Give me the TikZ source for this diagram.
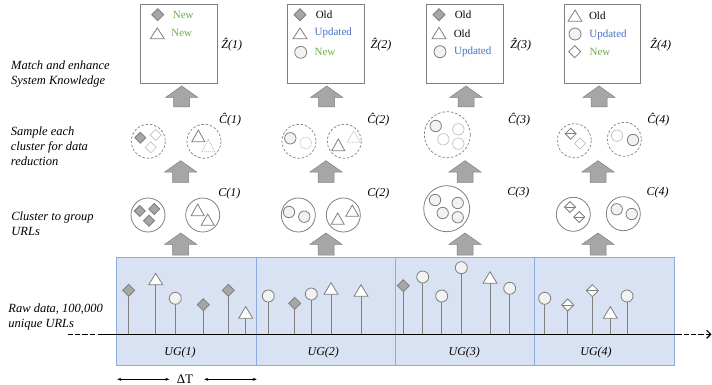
\documentclass[tikz,border=0pt]{standalone}
\usepackage{fontspec}
\setmainfont{Liberation Serif}
\usetikzlibrary{arrows.meta}
\definecolor{edgegray}{HTML}{7F7F7F}
\definecolor{lightedge}{HTML}{BFBFBF}
\definecolor{blockgray}{HTML}{A6A6A6}
\definecolor{softfill}{HTML}{F2F2F2}
\definecolor{bandfill}{HTML}{D9E2F3}
\definecolor{bandedge}{HTML}{8FAADC}
\definecolor{newgreen}{HTML}{70AD47}
\definecolor{updblue}{HTML}{4472C4}
\tikzset{
  lbl/.style={font=\fontsize{12}{14}\selectfont\itshape,inner sep=0pt},
  leftlbl/.style={font=\fontsize{12.5}{15}\selectfont\itshape,inner sep=0pt,anchor=north west,align=left},
  item/.style={font=\fontsize{11}{13}\selectfont,inner sep=0pt},
  itemold/.style={item,text=black},
  itemnew/.style={item,text=newgreen},
  itemupd/.style={item,text=updblue},
  zbox/.style={draw=edgegray,line width=0.9pt,fill=white},
  band/.style={draw=bandedge,line width=0.9pt,fill=bandfill},
  blockarrow/.style={draw=edgegray,line width=0.5pt,fill=blockgray},
  solidring/.style={draw=edgegray,line width=0.8pt},
  dashring/.style={draw=edgegray,line width=0.7pt,dash pattern=on 2.5pt off 1.8pt},
  markdia/.style={draw=edgegray,line width=0.8pt,fill=blockgray},
  markwhite/.style={draw=edgegray,line width=0.8pt,fill=white},
  markcirc/.style={draw=edgegray,line width=0.8pt,fill=softfill},
  faint/.style={draw=lightedge,line width=0.7pt},
  faintdash/.style={draw=lightedge,line width=0.7pt,dash pattern=on 1.2pt off 0.8pt},
  stem/.style={draw=edgegray,line width=0.9pt},
  axis/.style={draw=black,line width=1.5pt},
  axisdash/.style={draw=black,line width=1.2pt,dash pattern=on 5.2pt off 2pt},
  span/.style={draw=black,line width=0.5pt,{Stealth[length=4pt,width=3pt]}-{Stealth[length=4pt,width=3pt]}},
}
% x, y, half-size, style
\newcommand\Dia[4]{\path[#4] (#1-#3,#2) -- (#1,#2-#3) -- (#1+#3,#2) -- (#1,#2+#3) -- cycle;}
\newcommand\SplitDia[3]{\path[markwhite] (#1-#3,#2) -- (#1,#2-#3) -- (#1+#3,#2) -- (#1,#2+#3) -- cycle;
  \path[markwhite] (#1-#3,#2) -- (#1+#3,#2);}
% x, top y, bottom y, half-width, style
\newcommand\Tri[5]{\path[#5] (#1,#2) -- (#1+#4,#3) -- (#1-#4,#3) -- cycle;}
% x, y, r, style
\newcommand\Circ[4]{\path[#4] (#1,#2) circle[radius=#3];}
% tip x, top y, bottom y
\newcommand\Block[3]{\path[blockarrow] (#1,#2) -- (#1+16,#2+11.3) -- (#1+8,#2+11.3) -- (#1+8,#3) -- (#1-8,#3) -- (#1-8,#2+11.3) -- (#1-16,#2+11.3) -- cycle;}
% name, x, top of stem y
\newcommand\Stem[3]{\coordinate (f#1) at (#2,334.3); \coordinate (h#1) at (#2,#3); \draw[stem] (f#1) -- (h#1);}
\begin{document}
\begin{tikzpicture}[x=1pt,y=-1pt]
\useasboundingbox (0,0) rectangle (712,385);

% band
\path[band] (116.3,257.3) rectangle (674.3,365);
\coordinate (d1t) at (256,257.3); \coordinate (d1b) at (256,365);
\coordinate (d2t) at (395.3,257.3); \coordinate (d2b) at (395.3,365);
\coordinate (d3t) at (534.3,257.3); \coordinate (d3b) at (534.3,365);
\draw[band] (d1t) -- (d1b);
\draw[band] (d2t) -- (d2b);
\draw[band] (d3t) -- (d3b);

% stems
\Stem{a}{128.7}{290}\Stem{b}{155.7}{284}\Stem{c}{175.3}{298}\Stem{d}{203.3}{304}\Stem{e}{228.3}{290}\Stem{f}{245.7}{318}
\Stem{g}{268.3}{296}\Stem{i}{294.7}{303}\Stem{j}{311.3}{294}\Stem{k}{331}{294}\Stem{l}{361}{296}
\Stem{m}{403.3}{286}\Stem{n}{422.7}{277}\Stem{o}{441.7}{296}\Stem{p}{461.3}{268}\Stem{q}{490}{283}\Stem{r}{509.7}{288}
\Stem{s}{544.7}{298}\Stem{t}{567.7}{305}\Stem{u}{592.3}{291}\Stem{v}{610.3}{318}\Stem{w}{627}{296}

% axis
\coordinate (al0) at (68,334.3); \coordinate (al1) at (96,334.3);
\coordinate (a0) at (98.3,334.3); \coordinate (a1) at (681.7,334.3);
\coordinate (ar0) at (684,334.3); \coordinate (ar1) at (711.5,334.3);
\draw[axisdash] (al0) -- (al1);
\draw[axis] (a0) -- (a1);
\draw[axisdash,-{Straight Barb[length=4pt,width=8pt]}] (ar0) -- (ar1);

% stem markers
\Dia{128.7}{290.3}{6}{markdia}
\Tri{155.7}{273.3}{284.7}{7}{markwhite}
\Circ{175.3}{298.3}{6}{markcirc}
\Dia{203.3}{304.7}{6}{markdia}
\Dia{228.3}{290.3}{6}{markdia}
\Tri{245.7}{306.7}{318.3}{7}{markwhite}
\Circ{268.3}{296}{6}{markcirc}
\Dia{294.7}{303.3}{6}{markdia}
\Circ{311.3}{294}{6}{markcirc}
\Tri{331}{282.7}{294.3}{7}{markwhite}
\Tri{361}{284.7}{296.3}{7}{markwhite}
\Dia{403.3}{285.7}{6}{markdia}
\Circ{422.7}{277}{6}{markcirc}
\Circ{441.7}{296}{6}{markcirc}
\Circ{461.3}{267.7}{6}{markcirc}
\Tri{490}{271.7}{283.3}{7}{markwhite}
\Circ{509.7}{288.3}{6}{markcirc}
\Circ{544.7}{298.3}{6}{markcirc}
\SplitDia{567.7}{305}{6}
\SplitDia{592.3}{290.7}{6}
\Tri{610.3}{306.7}{318.3}{7}{markwhite}
\Circ{627}{296}{6}{markcirc}

% band labels
\node[lbl] (ug1) at (180,353) {UG(1)};
\node[lbl] (ug2) at (323.3,353) {UG(2)};
\node[lbl] (ug3) at (464.3,353) {UG(3)};
\node[lbl] (ug4) at (596,353) {UG(4)};

% delta T
\node[font=\fontsize{13}{15}\selectfont,inner sep=0pt] (dt) at (185,379.3) {ΔT};
\coordinate (s1a) at (117.3,379.3); \coordinate (s1b) at (169.3,379.3);
\coordinate (s2a) at (204.3,379.3); \coordinate (s2b) at (256.7,379.3);
\draw[span] (s1a) -- (s1b);
\draw[span] (s2a) -- (s2b);

% block arrows
\Block{181.7}{86}{107}\Block{326.7}{86}{107}\Block{466}{86}{107}\Block{599}{86}{107}
\Block{180.7}{160.7}{182.3}\Block{326}{160.7}{182.3}\Block{465}{160.7}{182.3}\Block{598}{160.7}{182.3}
\Block{180.7}{233}{255}\Block{326}{233}{255}\Block{465}{233}{255}\Block{598}{233}{255}

% knowledge boxes
\path[zbox] (140.7,4) rectangle (217,83);
\path[zbox] (287.3,4) rectangle (364.3,83);
\path[zbox] (426.7,4) rectangle (503.3,83);
\path[zbox] (564,4) rectangle (640.7,83);

\Dia{157.7}{14.7}{6}{markdia}
\node[itemnew] (z1a) at (183.3,15) {New};
\Tri{157.3}{28}{38.7}{7}{markwhite}
\node[itemnew] (z1b) at (181.7,33.3) {New};

\Dia{300}{14.7}{6}{markdia}
\node[itemold] (z2a) at (324,15) {Old};
\Tri{300}{28}{38.7}{7}{markwhite}
\node[itemupd] (z2b) at (333.3,33.3) {Updated};
\Circ{300.7}{52.3}{6}{markcirc}
\node[itemnew] (z2c) at (325,52.3) {New};

\Dia{439}{14.7}{6}{markdia}
\node[itemold] (z3a) at (463,15) {Old};
\Tri{439}{27.3}{38.7}{7}{markwhite}
\node[itemold] (z3b) at (462,33.3) {Old};
\Circ{440}{51.7}{6}{markcirc}
\node[itemupd] (z3c) at (472.7,52.3) {Updated};

\Tri{575}{10}{21.3}{7}{markwhite}
\node[itemold] (z4a) at (597.3,16) {Old};
\Circ{575}{34}{6}{markcirc}
\node[itemupd] (z4b) at (608,35) {Updated};
\Dia{574.7}{51.7}{6}{markwhite}
\node[itemnew] (z4c) at (600,52.3) {New};

\node[lbl] (zl1) at (231.7,44.3) {Ẑ(1)};
\node[lbl] (zl2) at (381,44.3) {Ẑ(2)};
\node[lbl] (zl3) at (520.7,44.3) {Ẑ(3)};
\node[lbl] (zl4) at (660.7,44.3) {Ẑ(4)};

% sampled clusters
\node[lbl] (cl1) at (230,120) {Ĉ(1)};
\node[lbl] (cl2) at (378.3,120) {Ĉ(2)};
\node[lbl] (cl3) at (519,120) {Ĉ(3)};
\node[lbl] (cl4) at (658.3,120) {Ĉ(4)};

\Circ{148.3}{141.3}{17}{dashring}
\Dia{140.3}{137.7}{5.5}{markdia}
\Dia{155.7}{135}{5.5}{faint}
\Dia{150.7}{147.3}{5.5}{faint}

\Circ{204}{141.3}{17}{dashring}
\Tri{198.3}{130}{141.7}{6.5}{markwhite}
\Tri{208.3}{139.3}{151.7}{6.5}{faintdash}

\Circ{299}{141.3}{17}{dashring}
\Circ{290.3}{138.3}{5.7}{markcirc}
\Circ{305.7}{143}{5.7}{faintdash}

\Circ{344.3}{141.3}{17}{dashring}
\Tri{353.7}{131}{142.3}{6.5}{faintdash}
\Tri{338.3}{139}{150.7}{6.5}{markwhite}

\Circ{447.3}{134.7}{23}{dashring}
\Circ{435.7}{126}{5.7}{markcirc}
\Circ{458.3}{129.3}{5.7}{faint}
\Circ{443.3}{139.3}{5.7}{faint}
\Circ{458.3}{143.7}{5.7}{faint}

\Circ{574.3}{140.7}{17}{dashring}
\SplitDia{570.7}{133.7}{5.5}
\Dia{580}{143.3}{5.5}{faint}

\Circ{624.3}{139.3}{17}{dashring}
\Circ{617}{135.7}{5.7}{faint}
\Circ{633}{140}{5.7}{markcirc}

% clusters
\node[lbl] (c1) at (229.3,193.3) {C(1)};
\node[lbl] (c2) at (378.3,193.3) {C(2)};
\node[lbl] (c3) at (518.3,192.7) {C(3)};
\node[lbl] (c4) at (657.7,192.7) {C(4)};

\Circ{148}{215}{17}{solidring}
\Dia{139.7}{211}{5.5}{markdia}
\Dia{154.3}{209}{5.5}{markdia}
\Dia{149}{220.7}{5.5}{markdia}

\Circ{202.7}{215}{17}{solidring}
\Tri{197.7}{204}{215.7}{6.5}{markwhite}
\Tri{207.7}{214}{225.3}{6.5}{markwhite}

\Circ{298.3}{215}{17}{solidring}
\Circ{289}{212}{5.7}{markcirc}
\Circ{304.3}{216.7}{5.7}{markcirc}

\Circ{343.3}{215}{17}{solidring}
\Tri{352.3}{205}{216.3}{6.5}{markwhite}
\Tri{337.7}{213}{224.3}{6.5}{markwhite}

\Circ{446.7}{208.7}{23}{solidring}
\Circ{435}{200}{5.7}{markcirc}
\Circ{457.7}{203}{5.7}{markcirc}
\Circ{442.7}{213}{5.7}{markcirc}
\Circ{457.7}{217.3}{5.7}{markcirc}

\Circ{573.3}{214.3}{17}{solidring}
\SplitDia{570}{207}{5.5}
\SplitDia{579.3}{217}{5.5}

\Circ{623.3}{213.7}{17}{solidring}
\Circ{616.7}{209.3}{5.7}{markcirc}
\Circ{631.7}{214}{5.7}{markcirc}

% left labels
\node[leftlbl] (t1) at (11,60.5) {Match and enhance\\System Knowledge};
\node[leftlbl] (t2) at (10.7,127) {Sample each\\cluster for data\\reduction};
\node[leftlbl] (t3) at (11.2,211.5) {Cluster to group\\URLs};
\node[leftlbl] (t4) at (8.2,303.5) {Raw data, 100,000\\unique URLs};
\end{tikzpicture}
\end{document}
